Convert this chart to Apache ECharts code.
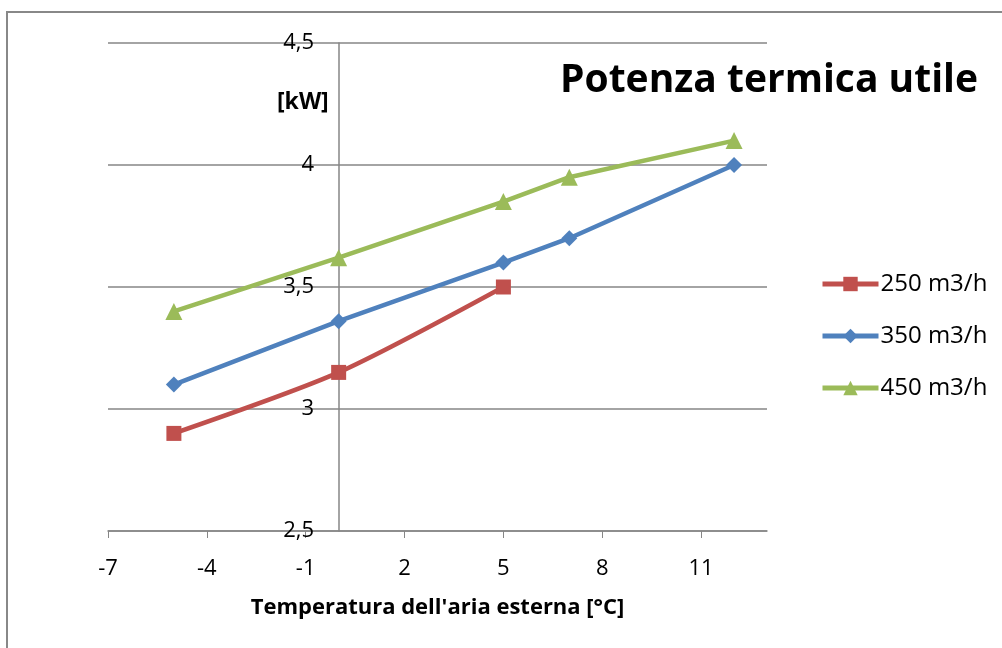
<!DOCTYPE html>
<html><head><meta charset="utf-8">
<script src="https://cdn.jsdelivr.net/npm/echarts@6/dist/echarts.min.js"></script>
<style>html,body{margin:0;padding:0;background:#fff}#c{width:1002px;height:648px}</style>
</head><body><div id="c"></div>
<script>
const titleText = 'Potenza termica utile';
const yName = '[kW]';
const xName = "Temperatura dell'aria esterna [°C]";
const xTicks = [-7, -4, -1, 2, 5, 8, 11];
const seriesNames = ['250 m3/h', '350 m3/h', '450 m3/h'];
const x250 = [-5, 0, 5];
const y250 = [2.9, 3.15, 3.5];
const x350 = [-5, 0, 5, 7, 12];
const y350 = [3.1, 3.36, 3.6, 3.7, 4.0];
const x450 = [-5, 0, 5, 7, 12];
const y450 = [3.4, 3.62, 3.85, 3.95, 4.1];

const pair = (xs, ys) => xs.map((x, i) => [x, ys[i]]);
const font = 'Open Sans, Noto Sans, sans-serif';
const chart = echarts.init(document.getElementById('c'), null, {renderer: 'canvas'});
chart.setOption({
  animation: false,
  backgroundColor: '#fff',
  graphic: [{type: 'rect', shape: {x: 7, y: 12, width: 1200, height: 800},
    style: {fill: 'none', stroke: '#888', lineWidth: 2}, silent: true}],
  title: [
    {text: titleText, right: 19, top: 56,
     textStyle: {fontFamily: font, fontSize: 39, fontWeight: 'bold', color: '#000'}},
    {text: yName, left: 272, top: 86,
     textStyle: {fontFamily: font, fontSize: 23, fontWeight: 'bold', color: '#000'}}
  ],
  legend: {
    orient: 'vertical', left: 815, top: 267, itemGap: 26,
    itemWidth: 56, itemHeight: 18, itemGap: 28,
    lineStyle: {width: 5},
    textStyle: {fontFamily: font, fontSize: 24, color: '#000', padding: [0, 0, 0, -3]},
    data: seriesNames
  },
  grid: {left: 108, right: 235, top: 43, bottom: 117},
  xAxis: {
    type: 'value', min: -7, max: 13, interval: 3,
    name: xName, nameLocation: 'middle', nameGap: 66,
    nameTextStyle: {fontFamily: font, fontSize: 22, fontWeight: 'bold', color: '#000'},
    axisLine: {lineStyle: {color: '#868686', width: 1.5}},
    axisTick: {show: true, length: 7, customValues: xTicks, lineStyle: {color: '#868686'}},
    axisLabel: {customValues: xTicks, fontFamily: font, fontSize: 22, color: '#000', margin: 27},
    splitLine: {show: false}
  },
  yAxis: {
    type: 'value', min: 2.5, max: 4.5, interval: 0.5,
    offset: -231,
    axisLine: {show: true, onZero: false, lineStyle: {color: '#868686', width: 1.5}},
    axisTick: {show: false},
    axisLabel: {fontFamily: font, fontSize: 22, color: '#000', margin: 25,
      formatter: v => String(v).replace('.', ',')},
    splitLine: {lineStyle: {color: '#868686', width: 1.5}}
  },
  series: [
    {name: seriesNames[0], type: 'line', data: pair(x250, y250), color: '#C0504D',
     smooth: 0.25, symbol: 'rect', symbolSize: 15, lineStyle: {width: 4.5}},
    {name: seriesNames[1], type: 'line', data: pair(x350, y350), color: '#4F81BD',
     symbol: 'diamond', symbolSize: 16, lineStyle: {width: 4.5}},
    {name: seriesNames[2], type: 'line', data: pair(x450, y450), color: '#9BBB59',
     symbol: 'triangle', symbolSize: 17, lineStyle: {width: 4.5}}
  ]
});
</script></body></html>
